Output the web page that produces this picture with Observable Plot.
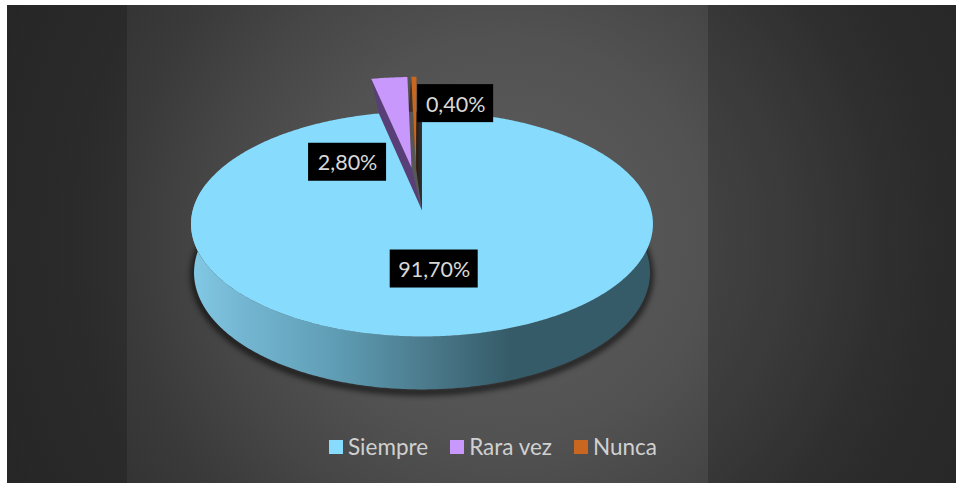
<!DOCTYPE html>
<html>
<head>
<meta charset="utf-8">
<script src="https://cdn.jsdelivr.net/npm/d3@7"></script>
<script src="https://cdn.jsdelivr.net/npm/@observablehq/plot@0.6"></script>
<style>
html,body{margin:0;padding:0;background:#fff;overflow:hidden}
#wrap{position:relative;width:956px;height:483px;font-family:Lato,sans-serif}
#wrap svg.chart{display:block}
.soft{filter:blur(3px)}
#legend{position:absolute;left:329px;top:430px;}
.lg-swatch{margin-right:22px !important;color:#d0d0d0;font-size:22.5px;font-family:Lato,sans-serif}
.lg-swatch svg{margin-right:5px !important}
.lg{min-height:0 !important;margin:0 !important;white-space:nowrap;display:flex;font-size:22.5px}
</style>
</head>
<body>
<div id="wrap"></div>
<script>
// --- data
const categories = ["Siempre", "Rara vez", "Nunca"];
const shares = [91.7, 2.8, 0.4];
const shareLabels = ["91,70%", "2,80%", "0,40%"];
const colors = ["#87DBFD", "#C998FC", "#C9661F"];

// --- view configuration (3D projection, exploded offsets, label layout)
const persp = -0.12;            // perspective of the disc
const depth = 48 / 110.88;      // height of the cylinder, in y units
const shrink = 0.987;           // lower rim is a little further from the eye
const explode = [[0, 0], [-0.048, -0.407], [-0.028, -0.41]];
const labelRadius = [0.475, 0.6, 0.6];
const labelDx = [0, -50, 41];
const labelDy = [0, 51, -7];
const labelShift = [3, 0, 0];
const boxW = [88, 78, 76];
const boxH = 38;

const W = 956, H = 483;
const cx = 421.5, cy = 210, rx = 229.3, ry = 110.88;
const xRange = [cx - rx, cx + rx], yRange = [cy - ry, cy + ry];

const arcs = d3.pie().sort(null)(shares);
const tau = 2 * Math.PI;

function project(s, t, lower = false) {
  const w = 1 + persp * t;
  let X = s / w, Y = t / w;
  if (lower) { X *= shrink; Y = Y * shrink + depth / w; }
  return {x: X, y: Y};
}
function rimPoint(i, a, r = 1, lower = false) {
  const [ox, oy] = explode[i];
  return project(ox + r * Math.sin(a), oy - r * Math.cos(a), lower);
}
function angles(a0, a1) {
  const n = Math.max(2, Math.ceil(Math.abs(a1 - a0) / 0.01));
  return d3.range(n + 1).map(k => a0 + (a1 - a0) * k / n);
}
// top faces
const faces = arcs.flatMap((d, i) => {
  const rim = angles(d.startAngle, d.endAngle).map(a => ({...rimPoint(i, a), cat: categories[i]}));
  return [{...rimPoint(i, 0, 0), cat: categories[i]}, ...rim];
});
// front wall of the big slice
const frontA = angles(Math.PI * 0.42, Math.PI * 1.58);
const wall = [...frontA.map(a => rimPoint(0, a)), ...frontA.slice().reverse().map(a => rimPoint(0, a, 1, true))];
const lowerDisc = frontA.map(a => rimPoint(0, a, 1, true));
// cut walls of the small slices, seen through the gap
const mainApex = rimPoint(0, 0, 0);
const purpleWall = [rimPoint(1, arcs[1].startAngle), rimPoint(1, 0, 0), mainApex, rimPoint(0, arcs[1].startAngle)];
const orangeWall = [rimPoint(2, arcs[2].startAngle), rimPoint(2, 0, 0), mainApex, rimPoint(0, tau), rimPoint(0, arcs[2].startAngle - 0.04)];

// label anchors on each slice's bisector
const labels = arcs.map((d, i) => {
  const p = rimPoint(i, (d.startAngle + d.endAngle) / 2, labelRadius[i]);
  const hw = boxW[i] / 2 / rx, hh = boxH / 2 / ry;
  return {...p, x1: p.x - hw, x2: p.x + hw, y1: p.y - hh, y2: p.y + hh, text: shareLabels[i], i};
});

const defs = () => {
  const svg = d3.create("svg:defs");
  const grad = (id, stops) => {
    const g = svg.append("linearGradient").attr("id", id).attr("x1", 0).attr("x2", 1).attr("y1", 0).attr("y2", 0);
    stops.forEach(([o, c]) => g.append("stop").attr("offset", o).attr("stop-color", c));
  };
  grad("sideGrad", [[0, "#82C8E4"], [0.12, "#73B5D0"], [0.32, "#5E9CB3"], [0.5, "#4C7C8E"], [0.69, "#355B68"], [1, "#355B68"]]);
  grad("gapGrad", [[0, "#30302f"], [0.25, "#4a3222"], [0.45, "#7a4520"], [0.62, "#2a1c14"], [1, "#2f3336"]]);
  return svg.node();
};

const bg = [
  "linear-gradient(rgba(0,0,0,.2),rgba(0,0,0,.2)) no-repeat 7px 5px / 120px 478px",
  "linear-gradient(rgba(0,0,0,.2),rgba(0,0,0,.2)) no-repeat 708px 5px / 248px 478px",
  "radial-gradient(circle 600px at 500px 235px,#5e5e5e 0,#525252 200px,#464646 300px,#3a3a3a 383px,#343434 450px,#2e2e2e 600px) no-repeat 7px 5px / 949px 478px"
].join(",");

const plot = Plot.plot({
  width: W, height: H,
  margin: 0,
  className: "chart",
  style: {background: bg, overflow: "visible"},
  x: {domain: [-1, 1], range: xRange, axis: null},
  y: {domain: [-1, 1], range: yRange, axis: null},
  color: {type: "ordinal", domain: categories, range: colors},
  marks: [
    defs,
    Plot.line(lowerDisc, {x: "x", y: "y", stroke: "#000", strokeWidth: 5, fill: "none", dy: 2.5, opacity: 0.85, className: "soft"}),
    Plot.line(wall, {x: "x", y: "y", fill: "url(#sideGrad)", stroke: "none"}),
    Plot.line(orangeWall, {x: "x", y: "y", fill: "url(#gapGrad)", stroke: "none"}),
    Plot.line(purpleWall, {x: "x", y: "y", fill: "#593F78", stroke: "none"}),
    Plot.line(faces.filter(d => d.cat !== categories[0]), {x: "x", y: "y", z: "cat", fill: "cat", stroke: "none"}),
    Plot.line(faces.filter(d => d.cat === categories[0]), {x: "x", y: "y", z: "cat", fill: "cat", stroke: "none"}),
    ...labels.map(l => Plot.rect([l], {x1: "x1", x2: "x2", y1: "y1", y2: "y2", fill: "#000", dx: labelDx[l.i], dy: labelDy[l.i] + labelShift[l.i]})),
    ...labels.map(l => Plot.text([l], {x: "x", y: "y", text: "text", fill: "#d8d8d8", fontSize: 21.5, fontFamily: "Lato, sans-serif", dx: labelDx[l.i], dy: labelDy[l.i] + labelShift[l.i] + 1}))
  ]
});
document.getElementById("wrap").append(plot);

const legend = plot.legend("color", {className: "lg", swatchSize: 14, swatchWidth: 14, swatchHeight: 14});
const holder = document.createElement("div");
holder.id = "legend";
holder.append(legend);
document.getElementById("wrap").append(holder);
</script>
</body>
</html>
